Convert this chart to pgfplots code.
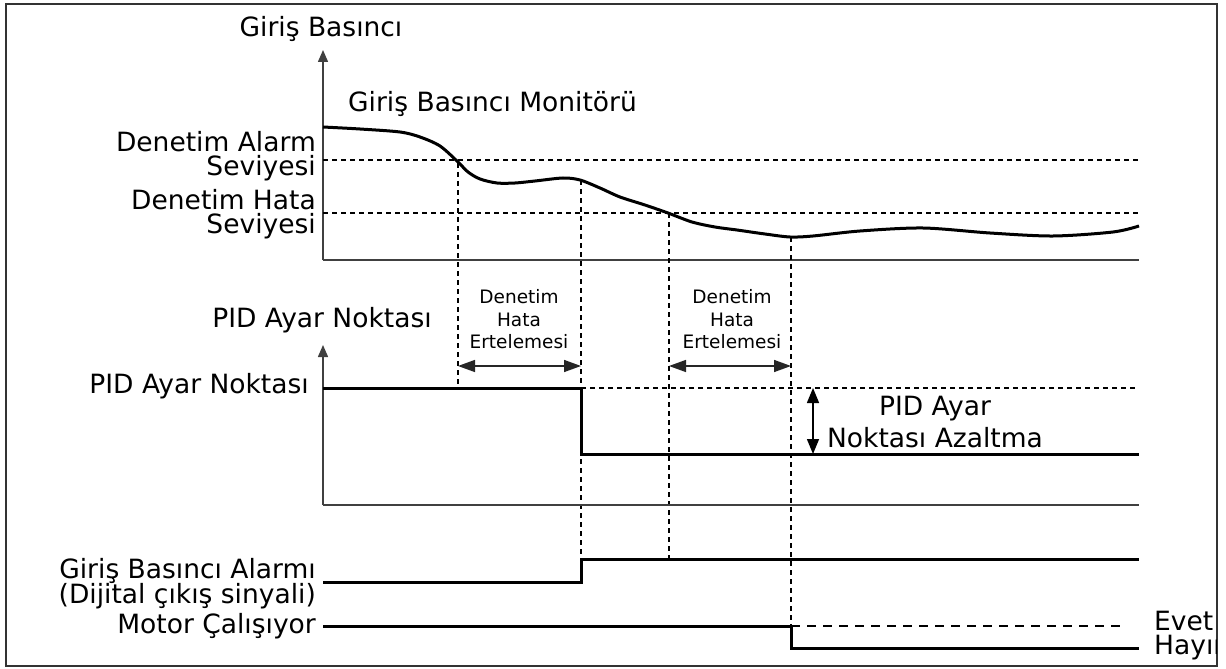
\documentclass[border=0pt]{standalone}
\usepackage{fontspec}
\setmainfont{DejaVu Sans}
\usepackage{pgfplots}
\pgfplotsset{compat=1.18}
\usetikzlibrary{arrows.meta}

\newcommand{\fa}{\fontsize{26.5bp}{30bp}\selectfont}
\newcommand{\fb}{\fontsize{18.5bp}{22bp}\selectfont}

\begin{document}
\begin{tikzpicture}
\begin{axis}[
  x=1bp, y=1bp,
  xmin=0, xmax=1226, ymin=0, ymax=669,
  y dir=reverse,
  hide axis, clip=false,
  sig/.style={black, line width=3bp, no marks},
  ref/.style={black, line width=1.2bp, dash pattern=on 5bp off 4bp, no marks},
  axl/.style={black!75, line width=1.5bp, no marks},
  dbl/.style={black!85, line width=1.5bp, no marks,
    {Triangle[length=17bp,width=12bp]}-{Triangle[length=17bp,width=12bp]}},
]
% frame
\draw[black!80, line width=1.5bp] (axis cs:6,4) rectangle (axis cs:1217,666);
\coordinate (bb1) at (axis cs:0,669);
\coordinate (bb2) at (axis cs:1226,0);

% top panel: inlet pressure
\addplot[axl, -{Triangle[length=12bp,width=10bp]}] coordinates {(323,260) (323,50)};
\addplot[axl] coordinates {(323,260) (1139,260)};
\addplot[ref] coordinates {(323,160) (1139,160)};
\addplot[ref] coordinates {(323,213) (1139,213)};
\addplot[sig, smooth, tension=0.5] coordinates {
  (323,127) (360,129) (400,132) (420,137) (440,146) (458,162)
  (468,172) (480,179) (497,183) (515,183) (535,181) (563,178)
  (580,180) (600,188) (620,197) (645,205) (668,213) (692,222)
  (715,227) (737,230) (765,234) (790,237) (813,236) (860,231)
  (923,228) (990,233) (1053,236) (1113,232) (1139,226)};

% vertical event markers
\addplot[ref] coordinates {(458,163) (458,386)};
\addplot[ref] coordinates {(581,180) (581,582)};
\addplot[ref] coordinates {(669,213) (669,559)};
\addplot[ref] coordinates {(791,237) (791,626)};

% middle panel: PID setpoint
\addplot[axl, -{Triangle[length=12bp,width=10bp]}] coordinates {(323,505) (323,345)};
\addplot[axl] coordinates {(323,505) (1139,505)};
\addplot[ref] coordinates {(581,388) (1139,388)};
\addplot[sig] coordinates {(323,388) (581,388) (581,454) (1139,454)};
\addplot[dbl] coordinates {(458,366) (581,366)};
\addplot[dbl] coordinates {(669,366) (791,366)};
\addplot[black, line width=1.5bp, no marks,
  {Triangle[length=15bp,width=12bp]}-{Triangle[length=15bp,width=12bp]}]
  coordinates {(813,388) (813,454)};

% bottom: digital signals
\addplot[sig] coordinates {(323,582) (581,582) (581,559) (1139,559)};
\addplot[black, line width=1.2bp, dash pattern=on 9bp off 7bp] coordinates {(791,626) (1127,626)};
\addplot[sig] coordinates {(323,626) (791,626) (791,648) (1139,648)};

% texts
\node[anchor=base, font=\fa] at (axis cs:321,37) {Giriş Basıncı};
\node[anchor=base west, font=\fa, inner sep=0pt] at (axis cs:348,112) {Giriş Basıncı Monitörü};
\node[anchor=base east, font=\fa, inner sep=0pt] at (axis cs:316,152) {Denetim Alarm};
\node[anchor=base east, font=\fa, inner sep=0pt] at (axis cs:316,176) {Seviyesi};
\node[anchor=base east, font=\fa, inner sep=0pt] at (axis cs:316,210) {Denetim Hata};
\node[anchor=base east, font=\fa, inner sep=0pt] at (axis cs:316,234) {Seviyesi};

\node[anchor=base, font=\fa] at (axis cs:322,327) {PID Ayar Noktası};
\node[anchor=base east, font=\fa, inner sep=0pt] at (axis cs:309,393) {PID Ayar Noktası};

\node[anchor=base, font=\fb, inner sep=0pt] at (axis cs:519,303) {Denetim};
\node[anchor=base, font=\fb, inner sep=0pt] at (axis cs:519,326) {Hata};
\node[anchor=base, font=\fb, inner sep=0pt] at (axis cs:519,348) {Ertelemesi};
\node[anchor=base, font=\fb, inner sep=0pt] at (axis cs:732,303) {Denetim};
\node[anchor=base, font=\fb, inner sep=0pt] at (axis cs:732,326) {Hata};
\node[anchor=base, font=\fb, inner sep=0pt] at (axis cs:732,348) {Ertelemesi};

\node[anchor=base, font=\fa, inner sep=0pt] at (axis cs:935,415) {PID Ayar};
\node[anchor=base, font=\fa, inner sep=0pt] at (axis cs:935,447) {Noktası Azaltma};

\node[anchor=base east, font=\fa, inner sep=0pt] at (axis cs:316,578) {Giriş Basıncı Alarmı};
\node[anchor=base east, font=\fa, inner sep=0pt] at (axis cs:316,603) {(Dijital çıkış sinyali)};
\node[anchor=base east, font=\fa, inner sep=0pt] at (axis cs:316,633) {Motor Çalışıyor};

\begin{scope}
\clip (axis cs:1140,595) rectangle (axis cs:1216,665);
\node[anchor=base west, font=\fa, inner sep=0pt] at (axis cs:1154,630) {Evet};
\node[anchor=base west, font=\fa, inner sep=0pt] at (axis cs:1154,654) {Hayır};
\end{scope}
\end{axis}
\pgfresetboundingbox
\useasboundingbox (bb1) rectangle (bb2);
\end{tikzpicture}
\end{document}
